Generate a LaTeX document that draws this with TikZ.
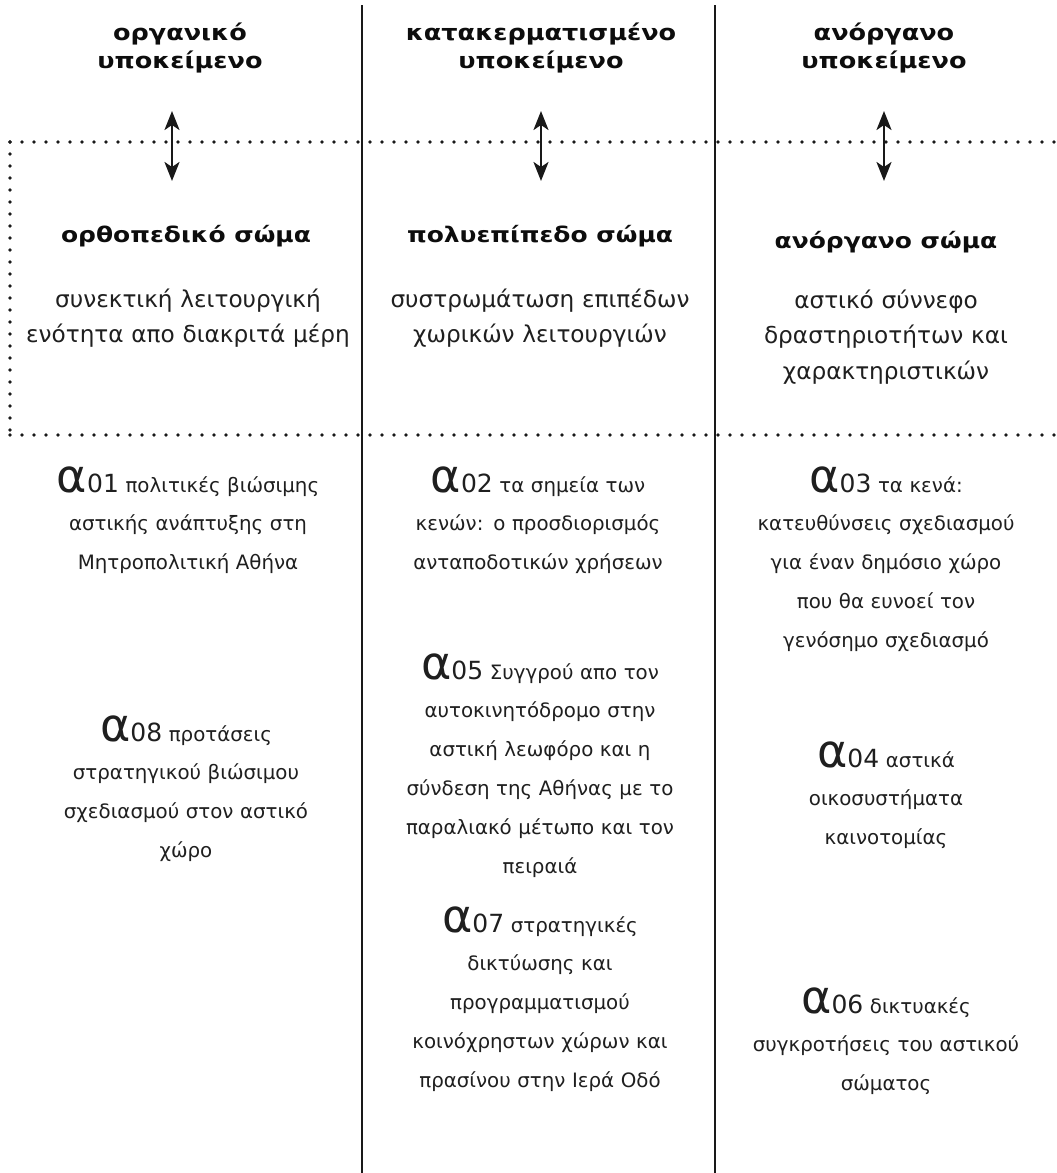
\documentclass[tikz,border=0pt]{standalone}
\usepackage{fontspec}
\setmainfont[BoldFeatures={FakeStretch=1.16}]{DejaVu Sans}
\usetikzlibrary{arrows.meta}
\newcommand\itm[1]{{\fontsize{46}{10}\selectfont α}{\fontsize{25}{10}\selectfont #1}}
\begin{document}
\begin{tikzpicture}[x=1pt,y=-1pt,
  hd/.style={font=\fontsize{22}{28.5}\selectfont\bfseries, align=center, text width=340pt, anchor=base, inner sep=0pt, text=black!95},
  sub/.style={font=\fontsize{21.5}{27}\selectfont\bfseries, anchor=base, inner sep=0pt, text=black!95},
  body/.style={font=\fontsize{23.2}{35.5}\selectfont, text=black!88, align=center, text width=340pt, anchor=base, inner sep=0pt},
  item/.style={font=\fontsize{19.8}{38.8}\selectfont, text=black!88, align=center, text width=340pt, anchor=base, inner sep=0pt},
  vline/.style={line width=2.7pt, black!90},
  dotline/.style={line width=3.8pt, line cap=round, dash pattern=on 0pt off 12pt, black!90},
  dbl/.style={line width=2.6pt, black!90, {Stealth[length=19pt,width=15pt,inset=5pt]}-{Stealth[length=19pt,width=15pt,inset=5pt]}}
]
\useasboundingbox (0,0) rectangle (1057,1173);
% structure lines
\coordinate (v1t) at (362,5); \coordinate (v1b) at (362,1173);
\coordinate (v2t) at (715,5); \coordinate (v2b) at (715,1173);
\draw[vline] (v1t) -- (v1b);
\draw[vline] (v2t) -- (v2b);
\coordinate (d1l) at (10,142); \coordinate (d1r) at (1057,142);
\coordinate (d2l) at (10,435); \coordinate (d2r) at (1057,435);
\draw[dotline] (d1l) -- (d1r);
\draw[dotline] (d2l) -- (d2r);
\draw[dotline] (d1l) -- (d2l);
% arrows
\coordinate (a1t) at (172,111); \coordinate (a1b) at (172,181);
\coordinate (a2t) at (541,111); \coordinate (a2b) at (541,181);
\coordinate (a3t) at (884,111); \coordinate (a3b) at (884,181);
\draw[dbl] (a1t) -- (a1b);
\draw[dbl] (a2t) -- (a2b);
\draw[dbl] (a3t) -- (a3b);
% headers
\node[hd] (h1) at (180,40) {οργανικό\\υποκείμενο};
\node[hd] (h2) at (541,40) {κατακερματισμένο\\υποκείμενο};
\node[hd] (h3) at (884,40) {ανόργανο\\υποκείμενο};
% sub headers
\node[sub] (s1) at (186,242) {ορθοπεδικό σώμα};
\node[sub] (s2) at (540,242) {πολυεπίπεδο σώμα};
\node[sub] (s3) at (886,248) {ανόργανο σώμα};
% descriptions
\node[body] (b1) at (188,307) {συνεκτική λειτουργική\\ενότητα απο διακριτά μέρη};
\node[body] (b2) at (540,307) {συστρωμάτωση επιπέδων\\χωρικών λειτουργιών};
\node[body] (b3) at (886,308) {αστικό σύννεφο\\δραστηριοτήτων και\\χαρακτηριστικών};
% items
\node[item] (i01) at (188,492) {\itm{01} πολιτικές βιώσιμης\\αστικής ανάπτυξης στη\\Μητροπολιτική Αθήνα};
\node[item] (i08) at (186,741) {\itm{08} προτάσεις\\στρατηγικού βιώσιμου\\σχεδιασμού στον αστικό\\χώρο};
\node[item] (i02) at (538,492) {\itm{02} τα σημεία των\\κενών: ο προσδιορισμός\\ανταποδοτικών χρήσεων};
\node[item] (i05) at (540,679) {\itm{05} Συγγρού απο τον\\αυτοκινητόδρομο στην\\αστική λεωφόρο και η\\σύνδεση της Αθήνας με το\\παραλιακό μέτωπο και τον\\πειραιά};
\node[item] (i07) at (540,932) {\itm{07} στρατηγικές\\δικτύωσης και\\προγραμματισμού\\κοινόχρηστων χώρων και\\πρασίνου στην Ιερά Οδό};
\node[item] (i03) at (886,492) {\itm{03} τα κενά:\\κατευθύνσεις σχεδιασμού\\για έναν δημόσιο χώρο\\που θα ευνοεί τον\\γενόσημο σχεδιασμό};
\node[item] (i04) at (886,767) {\itm{04} αστικά\\οικοσυστήματα\\καινοτομίας};
\node[item] (i06) at (886,1013) {\itm{06} δικτυακές\\συγκροτήσεις του αστικού\\σώματος};
\end{tikzpicture}
\end{document}
